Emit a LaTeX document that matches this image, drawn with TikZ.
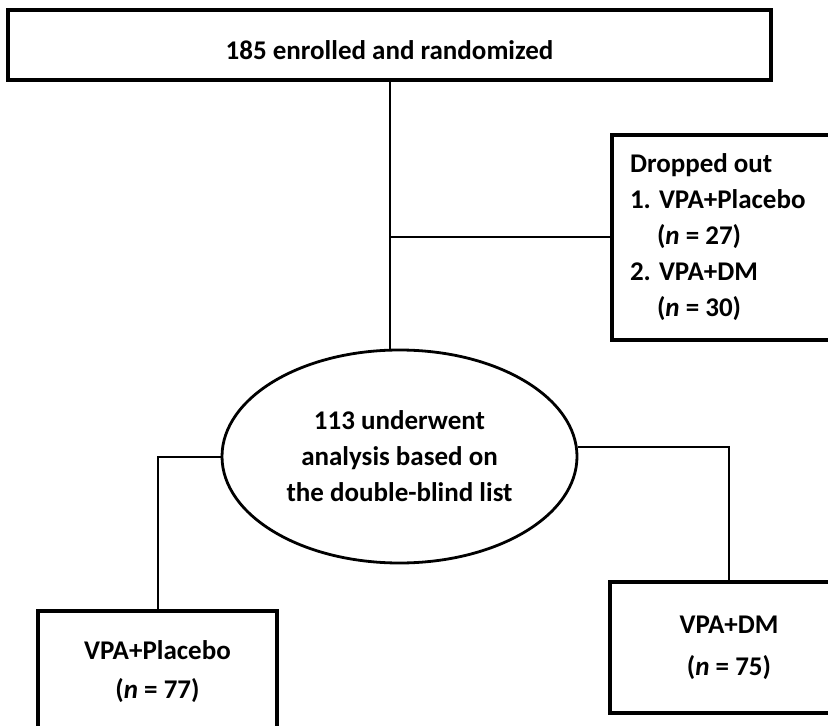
\documentclass[tikz,border=0pt]{standalone}
\usepackage{fontspec}
\setmainfont{Carlito}
\usetikzlibrary{shapes.geometric}
\begin{document}
\begin{tikzpicture}[x=0.5pt,y=-0.5pt,
  boxstyle/.style={draw=black,line width=2pt,rectangle,inner sep=0pt,align=center,
    font=\bfseries\fontsize{13.5}{19.5}\selectfont},
  ellstyle/.style={draw=black,line width=1.4pt,ellipse,inner sep=0pt,align=center,
    font=\bfseries\fontsize{13.5}{18}\selectfont},
  conn/.style={draw=black,line width=1pt}]
\useasboundingbox[fill=white] (0,0) rectangle (828,726);
\begin{scope}
\clip (0,0) rectangle (828,726);
\node[boxstyle,minimum width=381.5pt,minimum height=35pt,text height=15pt] (top) at (389.5,45) {185 enrolled and randomized};
\node[boxstyle,minimum width=119pt,minimum height=102.5pt,text width=101pt,inner xsep=9pt,align=flush left,
  font=\bfseries\fontsize{13.5}{18}\selectfont] (drop) at (731,237.5)
  {Dropped out\\1. VPA+Placebo\\\hspace*{13.5pt}(\textit{n} = 27)\\2. VPA+DM\\\hspace*{13.5pt}(\textit{n} = 30)};
\node[ellstyle,minimum width=177.5pt,minimum height=106.5pt] (ell) at (399.5,456.5)
  {113 underwent\\analysis based on\\the double-blind list};
\node[boxstyle,minimum width=119.5pt,minimum height=61pt] (lbox) at (157.5,672)
  {VPA+Placebo\\(\textit{n} = 77)};
\node[boxstyle,minimum width=119pt,minimum height=65.5pt,font=\bfseries\fontsize{13.5}{21}\selectfont] (rbox) at (729,647.5)
  {VPA+DM\\(\textit{n} = 75)};
\draw[conn] (top.south) -- (top.south |- ell.north);
\draw[conn] (top.south |- drop.west) -- (drop.west);
\draw[conn] (ell.west) -| (lbox.north);
\draw[conn] (ell.3) -| (rbox.north);
\end{scope}
\end{tikzpicture}
\end{document}
